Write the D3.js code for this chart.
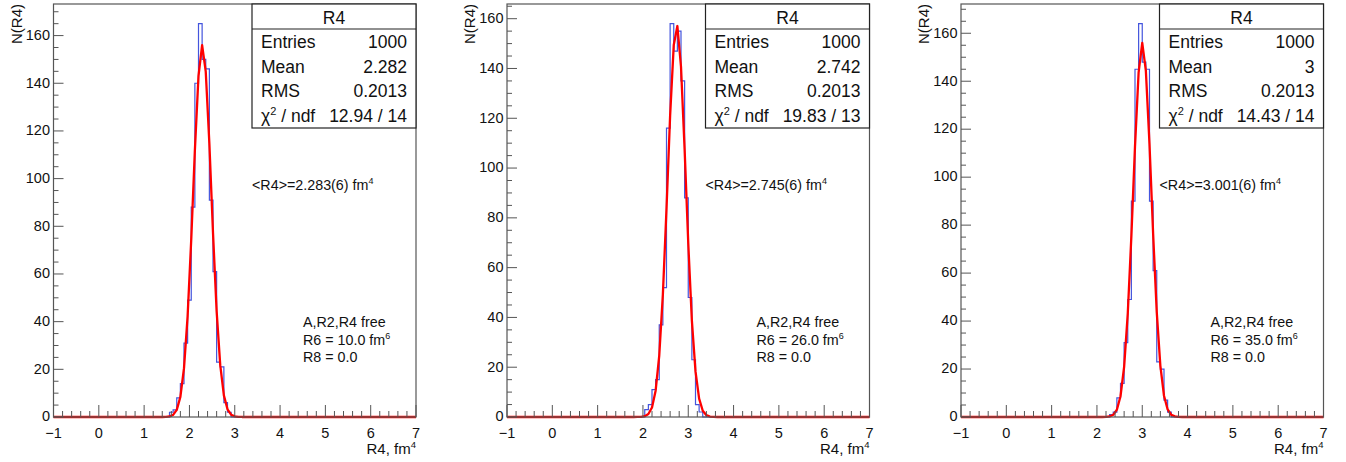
<!DOCTYPE html>
<html><head><meta charset="utf-8">
<script src="https://cdn.jsdelivr.net/npm/d3@7/dist/d3.min.js"></script>
<style>
html,body{margin:0;padding:0;background:#fff;}
svg{display:block;font-family:"Liberation Sans",Arial,Helvetica,sans-serif;}
</style></head>
<body><svg id="chart" width="1346" height="462"></svg>
<script>
// ---------- data ----------
const xDomain = [-1, 7];
const binWidth = 0.08;           // 100 bins over [-1, 7]
const xTickValues = [-1, 0, 1, 2, 3, 4, 5, 6, 7];
const yTickValues = [0, 20, 40, 60, 80, 100, 120, 140, 160];

// non-zero bins of each histogram: first bin low edge + counts
const hist1Start = 1.56;
const hist1Counts = [2, 3, 8, 14, 31, 49, 88, 140, 165, 150, 146, 91, 61, 23, 21, 6, 2];
const hist2Start = 2.04;
const hist2Counts = [3, 5, 11, 15, 37, 52, 116, 158, 147, 155, 135, 88, 48, 23, 5, 2];
const hist3Start = 2.28;
const hist3Counts = [1, 2, 8, 14, 31, 49, 90, 145, 164, 148, 145, 90, 61, 23, 20, 7, 2];

// gaussian fit parameters (constant, mean, sigma)
const fitConst = [156, 157.5, 156];
const fitMean = [2.283, 2.745, 3.001];
const fitSigma = [0.200, 0.200, 0.200];

// stats box texts
const statTitle = ["R4", "R4", "R4"];
const statEntries = ["1000", "1000", "1000"];
const statMean = ["2.282", "2.742", "3"];
const statRMS = ["0.2013", "0.2013", "0.2013"];
const statChi2 = ["12.94 / 14", "19.83 / 13", "14.43 / 14"];

// annotations
const meanLabel = ["2.283(6)", "2.745(6)", "3.001(6)"];
const r6Label = ["10.0", "26.0", "35.0"];
const r8Label = ["0.0", "0.0", "0.0"];
const xTitle = "R4, fm";
const yTitle = "N(R4)";

// ---------- drawing ----------
const svg = d3.select("#chart");
const panelLeft = [53.5, 507, 961];
const frameW = 362.5, frameTop = 4, frameBottom = 417;
const histStarts = [hist1Start, hist2Start, hist3Start];
const histCounts = [hist1Counts, hist2Counts, hist3Counts];
const nBins = Math.round((xDomain[1] - xDomain[0]) / binWidth);
const axisColor = "#555";
const textColor = "#111";

for (let p = 0; p < 3; p++) {
  const L = panelLeft[p];
  const g = svg.append("g");
  const counts = new Array(nBins).fill(0);
  const startIdx = Math.round((histStarts[p] - xDomain[0]) / binWidth);
  histCounts[p].forEach((c, i) => { counts[startIdx + i] = c; });
  const maxC = d3.max(counts);
  const x = d3.scaleLinear().domain(xDomain).range([L, L + frameW]);
  const y = d3.scaleLinear().domain([0, maxC * 1.05]).range([frameBottom, frameTop]);

  g.append("rect").attr("x", L).attr("y", frameTop).attr("width", frameW)
    .attr("height", frameBottom - frameTop).attr("fill", "#fff");

  // histogram
  const pts = counts.map((c, i) => [xDomain[0] + i * binWidth, c]);
  pts.push([xDomain[1], counts[nBins - 1]]);
  g.append("path").datum(pts)
    .attr("d", d3.line().x(d => x(d[0])).y(d => y(d[1])).curve(d3.curveStepAfter))
    .attr("fill", "none").attr("stroke", "#4455dd").attr("stroke-width", 1.2);

  // fit curve (100 segments over the range)
  const fpts = d3.range(nBins + 1).map(i => {
    const xv = xDomain[0] + i * binWidth;
    return [xv, fitConst[p] * Math.exp(-0.5 * Math.pow((xv - fitMean[p]) / fitSigma[p], 2))];
  });
  g.append("path").datum(fpts)
    .attr("d", d3.line().x(d => x(d[0])).y(d => y(d[1])))
    .attr("fill", "none").attr("stroke", "#ff0000").attr("stroke-width", 2.3)
    .attr("stroke-linejoin", "round");

  // frame
  g.append("rect").attr("x", L).attr("y", frameTop).attr("width", frameW)
    .attr("height", frameBottom - frameTop).attr("fill", "none")
    .attr("stroke", axisColor).attr("stroke-width", 1.2);

  // x ticks (inside)
  const xMinor = d3.range(0, 41).map(i => xDomain[0] + i * 0.2);
  xMinor.forEach(v => {
    const isMajor = Math.abs(v - Math.round(v)) < 1e-6;
    g.append("line").attr("x1", x(v)).attr("x2", x(v))
      .attr("y1", frameBottom).attr("y2", frameBottom - (isMajor ? 12 : 6))
      .attr("stroke", axisColor).attr("stroke-width", 1);
  });
  xTickValues.forEach(v => {
    g.append("text").attr("x", x(v)).attr("y", 438).attr("text-anchor", "middle")
      .attr("font-size", 14.5).attr("fill", textColor)
      .text(v < 0 ? "\u2212" + Math.abs(v) : String(v));
  });
  // y ticks (inside)
  const yMaxVal = y.domain()[1];
  for (let v = 0; v <= yMaxVal; v += 5) {
    const isMajor = v % 20 === 0;
    g.append("line").attr("x1", L).attr("x2", L + (isMajor ? 10 : 5))
      .attr("y1", y(v)).attr("y2", y(v))
      .attr("stroke", axisColor).attr("stroke-width", 1);
  }
  yTickValues.forEach(v => {
    g.append("text").attr("x", L - 3.5).attr("y", y(v) + 4.3)
      .attr("text-anchor", "end").attr("font-size", 14.5).attr("fill", textColor).text(v);
  });

  // axis titles
  const xt = g.append("text").attr("x", L + frameW).attr("y", 454)
    .attr("text-anchor", "end").attr("font-size", 15).attr("fill", textColor);
  xt.append("tspan").text(xTitle);
  xt.append("tspan").attr("dy", -6).attr("font-size", 9.5).text("4");
  g.append("text").attr("transform", `translate(${L - 32},${frameTop}) rotate(-90)`)
    .attr("text-anchor", "end").attr("font-size", 15).attr("fill", textColor).text(yTitle);

  // stats box
  const bx = L + frameW - 164, bw = 164, by = frameTop, bh = 124;
  g.append("rect").attr("x", bx).attr("y", by).attr("width", bw).attr("height", bh)
    .attr("fill", "#fff").attr("stroke", "#222").attr("stroke-width", 1.2);
  g.append("line").attr("x1", bx).attr("x2", bx + bw).attr("y1", by + 25).attr("y2", by + 25)
    .attr("stroke", "#222").attr("stroke-width", 1.2);
  g.append("text").attr("x", bx + bw / 2).attr("y", by + 20).attr("text-anchor", "middle")
    .attr("font-size", 17.5).attr("fill", textColor).text(statTitle[p]);
  const rows = [["Entries", statEntries[p]], ["Mean", statMean[p]], ["RMS", statRMS[p]], ["chi", statChi2[p]]];
  rows.forEach((r, i) => {
    const yy = by + 44 + i * 24.5;
    const lt = g.append("text").attr("x", bx + 9).attr("y", yy).attr("font-size", 17.5).attr("fill", textColor);
    if (r[0] === "chi") {
      lt.append("tspan").text("\u03C7");
      lt.append("tspan").attr("dy", -7).attr("font-size", 11).text("2");
      lt.append("tspan").attr("dy", 7).text(" / ndf");
    } else lt.text(r[0]);
    g.append("text").attr("x", bx + bw - 9).attr("y", yy).attr("text-anchor", "end")
      .attr("font-size", 17.5).attr("fill", textColor).text(r[1]);
  });

  // annotations
  const fs = 14.3;
  const a1 = g.append("text").attr("x", L + 198.5).attr("y", 190).attr("font-size", fs).attr("fill", textColor);
  a1.append("tspan").text("<R4>=" + meanLabel[p] + " fm");
  a1.append("tspan").attr("dy", -6).attr("font-size", 9).text("4");
  const ax0 = L + 249.5;
  g.append("text").attr("x", ax0).attr("y", 327).attr("font-size", fs).attr("fill", textColor).text("A,R2,R4 free");
  const a2 = g.append("text").attr("x", ax0).attr("y", 344.5).attr("font-size", fs).attr("fill", textColor);
  a2.append("tspan").text("R6 = " + r6Label[p] + " fm");
  a2.append("tspan").attr("dy", -6).attr("font-size", 9).text("6");
  g.append("text").attr("x", ax0).attr("y", 362).attr("font-size", fs).attr("fill", textColor).text("R8 = " + r8Label[p]);
}
</script>
</body></html>
